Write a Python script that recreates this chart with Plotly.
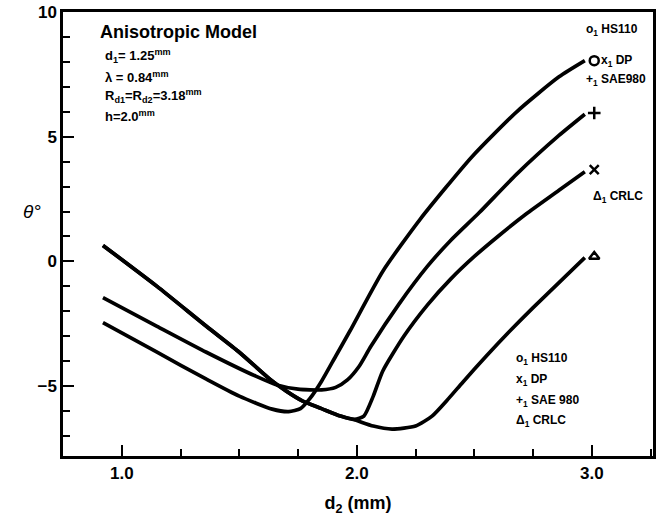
import plotly.graph_objects as go

# ---- data ----
x_hs110 = [0.92, 1.15, 1.36, 1.50, 1.64, 1.71, 1.76, 1.80, 1.85, 1.91, 1.97, 2.11, 2.27, 2.49, 2.68, 2.86, 2.97]
y_hs110 = [-2.45, -3.64, -4.72, -5.4, -5.92, -6.02, -5.9, -5.5, -4.8, -3.8, -2.8, -0.4, 1.7, 4.2, 6.0, 7.4, 8.05]

x_sae980 = [0.92, 1.15, 1.36, 1.57, 1.66, 1.75, 1.85, 1.91, 1.96, 2.01, 2.06, 2.18, 2.30, 2.40, 2.52, 2.68, 2.86, 2.97]
y_sae980 = [-1.45, -2.6, -3.64, -4.6, -4.95, -5.12, -5.15, -5.05, -4.75, -4.2, -3.4, -1.7, -0.2, 0.85, 1.95, 3.5, 5.05, 5.9]

x_dp = [0.92, 1.15, 1.36, 1.50, 1.63, 1.70, 1.77, 1.85, 1.93, 1.99, 2.03, 2.07, 2.11, 2.20, 2.30, 2.40, 2.50, 2.60, 2.72, 2.86, 2.97]
y_dp = [0.64, -1.0, -2.6, -3.64, -4.72, -5.2, -5.6, -5.9, -6.2, -6.33, -6.2, -5.4, -4.4, -3.0, -1.75, -0.7, 0.2, 1.0, 1.9, 2.85, 3.6]

x_crlc = [0.92, 1.15, 1.36, 1.50, 1.63, 1.70, 1.77, 1.85, 1.93, 1.99, 2.07, 2.15, 2.25, 2.32, 2.39, 2.45, 2.55, 2.65, 2.75, 2.86, 2.97]
y_crlc = [0.64, -1.0, -2.6, -3.64, -4.72, -5.2, -5.6, -5.9, -6.2, -6.35, -6.6, -6.72, -6.6, -6.2, -5.5, -4.85, -3.8, -2.8, -1.85, -0.85, 0.15]

end_x = [3.01, 3.01, 3.01, 3.01]
end_y = [8.05, 5.95, 3.68, 0.2]
end_symbols = ["circle-open", "cross-thin-open", "x-thin-open", "triangle-up-open"]

x_major = [1.0, 2.0, 3.0]
x_tick_labels = ["1.0", "2.0", "3.0"]
y_major = [-5, 0, 5, 10]

FONT = "Liberation Sans"

fig = go.Figure()
for xs, ys in [(x_hs110, y_hs110), (x_sae980, y_sae980), (x_dp, y_dp), (x_crlc, y_crlc)]:
    fig.add_trace(go.Scatter(x=xs, y=ys, mode="lines",
                             line=dict(color="black", width=3.7, shape="spline", smoothing=0.6),
                             showlegend=False, hoverinfo="skip"))

fig.add_trace(go.Scatter(x=end_x, y=end_y, mode="markers",
                         marker=dict(symbol=end_symbols, size=9, color="black",
                                     line=dict(color="black", width=2.5)),
                         showlegend=False, hoverinfo="skip"))

fig.update_layout(
    width=657, height=521,
    margin=dict(l=63, r=4, t=12, b=65),
    paper_bgcolor="white", plot_bgcolor="white",
    font=dict(family=FONT, color="black"),
)

fig.update_xaxes(
    range=[0.75, 3.26], tickvals=x_major, ticktext=x_tick_labels, automargin=False,
    ticks="inside", ticklen=11, tickwidth=2, tickcolor="black",
    minor=dict(dtick=0.25, tick0=0, ticks="inside", ticklen=7, tickwidth=1.5, tickcolor="black"),
    showline=True, linewidth=2.5, linecolor="black", mirror=True,
    showgrid=False, zeroline=False,
    tickfont=dict(size=17, family=FONT, weight="bold"),
    title=dict(text="d<sub>2</sub> (mm)", font=dict(size=18, family=FONT, weight="bold"), standoff=15),
)
fig.update_yaxes(
    range=[-7.8, 10], tickvals=y_major, automargin=False,
    ticks="inside", ticklen=11, tickwidth=2, tickcolor="black",
    minor=dict(dtick=1, tick0=0, ticks="inside", ticklen=7, tickwidth=1.5, tickcolor="black"),
    showline=True, linewidth=2.5, linecolor="black", mirror=True,
    showgrid=False, zeroline=False,
    tickfont=dict(size=17, family=FONT, weight="bold"),
)

ann = []
ann.append(dict(xref="paper", yref="y", x=0, y=2.0, xshift=-42, text="<i>θ°</i>",
                showarrow=False, font=dict(size=19, family=FONT), xanchor="left"))

# top-left parameter block
ann.append(dict(x=0.9, y=9.2, text="<b>Anisotropic Model</b>", showarrow=False,
                xanchor="left", font=dict(size=18, family=FONT)))
block = ["<b>d<sub>1</sub>= 1.25<sup>mm</sup></b>",
         "<b>λ = 0.84<sup>mm</sup></b>",
         "<b>R<sub>d1</sub>=R<sub>d2</sub>=3.18<sup>mm</sup></b>",
         "<b>h=2.0<sup>mm</sup></b>"]
block_y = [8.25, 7.4, 6.65, 5.85]
for t, yy in zip(block, block_y):
    ann.append(dict(x=0.92, y=yy, text=t, showarrow=False, xanchor="left",
                    font=dict(size=13, family=FONT)))

# labels near the curve ends
right_labels = ["<b>o<sub>1</sub> HS110</b>", "<b>x<sub>1</sub> DP</b>",
                "<b>+<sub>1</sub> SAE980</b>", "<b>Δ<sub>1</sub> CRLC</b>"]
right_x = [2.965, 3.03, 2.965, 2.995]
right_y = [9.28, 8.05, 7.28, 2.6]
for t, xx, yy in zip(right_labels, right_x, right_y):
    ann.append(dict(x=xx, y=yy, text=t, showarrow=False, xanchor="left",
                    font=dict(size=12, family=FONT)))

# bottom-right key
key_labels = ["<b>o<sub>1</sub> HS110</b>", "<b>x<sub>1</sub> DP</b>",
              "<b>+<sub>1</sub> SAE 980</b>", "<b>Δ<sub>1</sub> CRLC</b>"]
key_y = [-3.92, -4.75, -5.6, -6.4]
for t, yy in zip(key_labels, key_y):
    ann.append(dict(x=2.668, y=yy, text=t, showarrow=False, xanchor="left",
                    font=dict(size=12, family=FONT)))

fig.update_layout(annotations=ann)
fig.write_html("out.html", config={"displayModeBar": False},
               post_script="document.body.style.margin='0';")
